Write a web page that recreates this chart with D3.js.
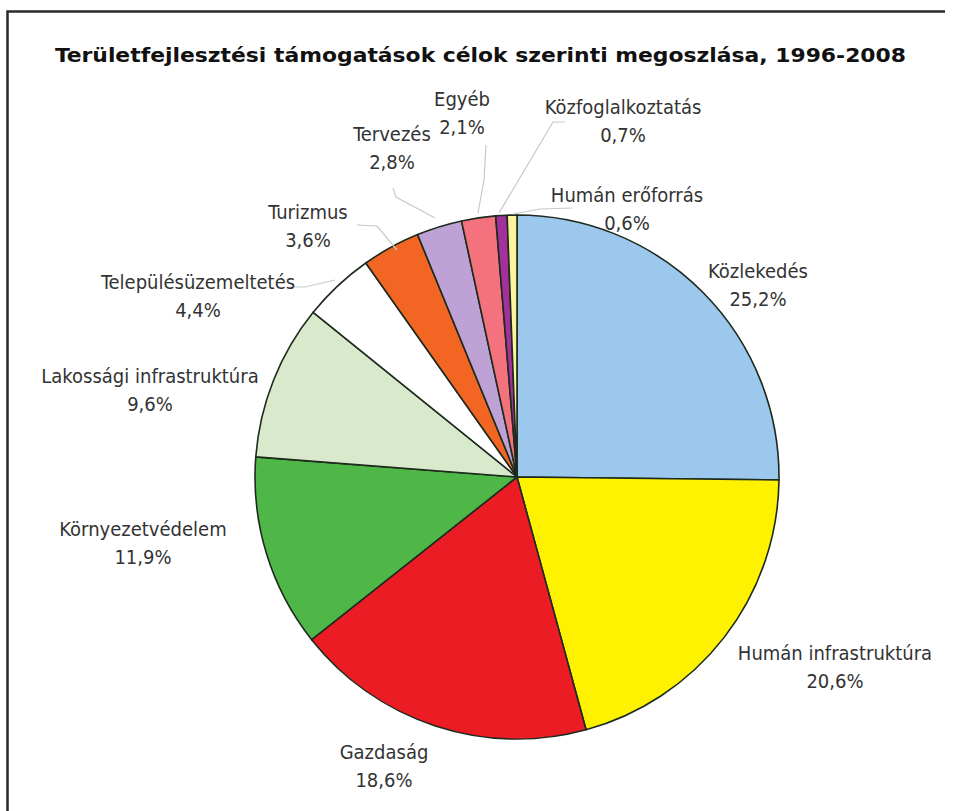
<!DOCTYPE html>
<html>
<head>
<meta charset="utf-8">
<script src="https://cdn.jsdelivr.net/npm/d3@7"></script>
<style>
  body { margin: 0; background: #fff; }
  svg text { font-family: "DejaVu Sans Condensed", "DejaVu Sans", sans-serif; fill: #333; }
</style>
</head>
<body>
<div id="chart"></div>
<script>
var width = 953,
    height = 811;

var title = "Területfejlesztési támogatások célok szerinti megoszlása, 1996-2008";

// slices clockwise from 12 o'clock
var categories = ["Közlekedés", "Humán infrastruktúra", "Gazdaság", "Környezetvédelem",
    "Lakossági infrastruktúra", "Településüzemeltetés", "Turizmus", "Tervezés",
    "Egyéb", "Közfoglalkoztatás", "Humán erőforrás"];
var values = [25.2, 20.6, 18.6, 11.9, 9.6, 4.4, 3.6, 2.8, 2.1, 0.7, 0.6];
var colors = ["#9dc8ee", "#fff200", "#ec1c24", "#4fb748", "#d8eacb", "#ffffff",
    "#f26522", "#bea2d5", "#f3727e", "#a3319c", "#fbf49a"];

// label centre (x, baseline of first line) and leader line points
var labelPos = [
    {x: 758, y: 278},
    {x: 835, y: 660},
    {x: 384, y: 759},
    {x: 143, y: 536},
    {x: 150, y: 383},
    {x: 198, y: 289, line: [[290, 287], [305, 287], [335, 280]]},
    {x: 308, y: 219, line: [[357, 225], [377, 226], [397, 250]]},
    {x: 392, y: 141, line: [[393, 188], [396, 197], [435, 218]]},
    {x: 462, y: 106, line: [[486, 145], [484, 180], [478, 213]]},
    {x: 623, y: 114, line: [[565, 122], [553, 122], [499, 213]]},
    {x: 627, y: 202, line: [[572, 208], [540, 209], [513, 214]]}
];

var cx = 517, cy = 477, r = 262;

var svg = d3.select("#chart").append("svg")
    .attr("width", width)
    .attr("height", height);

// frame: only top and left edges are visible in the picture
svg.append("path")
    .attr("d", "M7.5," + height + "V11.5H945")
    .attr("fill", "none")
    .attr("stroke", "#2a2a2a")
    .attr("stroke-width", 2.5);

svg.append("text")
    .attr("x", 55).attr("y", 62)
    .attr("font-size", 20)
    .attr("font-weight", "bold")
    .attr("textLength", 851)
    .attr("lengthAdjust", "spacingAndGlyphs")
    .style("fill", "#111")
    .text(title);

var pie = d3.pie().sort(null).value(function (d) { return d; });
var arc = d3.arc().innerRadius(0).outerRadius(r);

var g = svg.append("g").attr("transform", "translate(" + cx + "," + cy + ")");

g.selectAll("path")
    .data(pie(values))
    .enter().append("path")
    .attr("d", arc)
    .attr("fill", function (d, i) { return colors[i]; })
    .attr("stroke", "#1d2a1d")
    .attr("stroke-width", 1.6)
    .attr("stroke-linejoin", "round");

// leader lines
var line = d3.line();
svg.selectAll("path.leader")
    .data(labelPos.filter(function (p) { return p.line; }))
    .enter().append("path")
    .attr("class", "leader")
    .attr("d", function (p) { return line(p.line); })
    .attr("fill", "none")
    .attr("stroke", "#c8c8c8")
    .attr("stroke-width", 1.2);

var labels = svg.selectAll("text.lbl")
    .data(categories)
    .enter().append("text")
    .attr("class", "lbl")
    .attr("text-anchor", "middle")
    .attr("font-size", 20)
    .attr("x", function (d, i) { return labelPos[i].x; })
    .attr("y", function (d, i) { return labelPos[i].y; });

labels.append("tspan")
    .attr("x", function (d, i) { return labelPos[i].x; })
    .text(function (d) { return d; });
labels.append("tspan")
    .attr("x", function (d, i) { return labelPos[i].x; })
    .attr("dy", 28)
    .text(function (d, i) { return d3.format(".1f")(values[i]).replace(".", ",") + "%"; });
</script>
</body>
</html>
